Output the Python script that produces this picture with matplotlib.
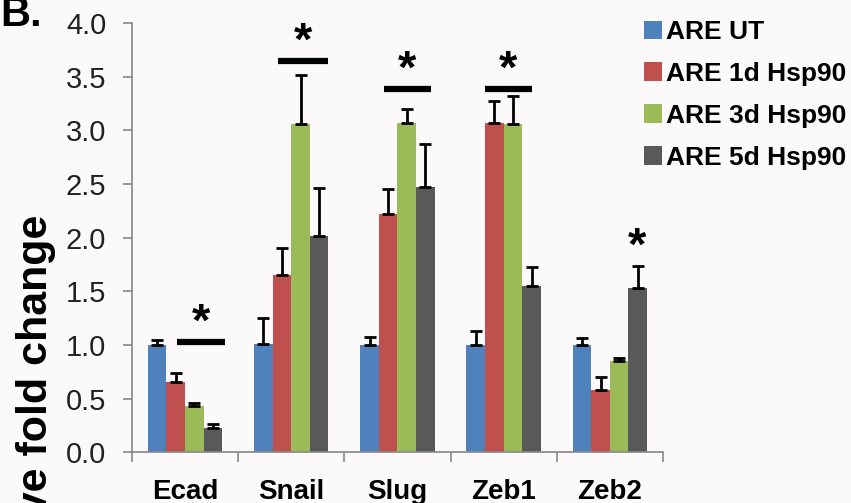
import matplotlib.pyplot as plt
import numpy as np

plt.rcParams['font.family'] = ['Liberation Sans', 'DejaVu Sans']

genes = ['Ecad', 'Snail', 'Slug', 'Zeb1', 'Zeb2']
groups = ['ARE UT', 'ARE 1d Hsp90', 'ARE 3d Hsp90', 'ARE 5d Hsp90']

ut = [1.00, 1.01, 1.00, 1.00, 1.00]
d1 = [0.65, 1.65, 2.22, 3.07, 0.58]
d3 = [0.43, 3.06, 3.07, 3.06, 0.85]
d5 = [0.23, 2.02, 2.47, 1.55, 1.53]

ut_err = [0.05, 0.24, 0.07, 0.13, 0.06]
d1_err = [0.09, 0.25, 0.23, 0.20, 0.12]
d3_err = [0.03, 0.46, 0.13, 0.26, 0.03]
d5_err = [0.03, 0.44, 0.40, 0.18, 0.21]

# significance: (gene index, line start offset, line end offset, line height)
sig_lines = [(0, -0.08, 0.38, 1.03), (1, -0.12, 0.35, 3.65),
             (2, -0.13, 0.32, 3.39), (3, -0.18, 0.27, 3.39)]
sig_star_only = [(4, 0.26, 1.70)]

colors = ['#4F81BD', '#C0504D', '#9BBB59', '#595959']
bg = '#fcf9fa'

fig = plt.figure(figsize=(8.51, 5.03), dpi=100, facecolor=bg)
ax = fig.add_axes([0.155, 0.101, 0.624, 0.853], facecolor=bg)

x = np.arange(len(genes))
w = 0.175
series = [ut, d1, d3, d5]
errs = [ut_err, d1_err, d3_err, d5_err]
for i in range(4):
    pos = x + (i - 1.5) * w
    ax.bar(pos, series[i], w, color=colors[i], label=groups[i], zorder=2)
    ax.errorbar(pos, series[i], yerr=[np.zeros(len(genes)), errs[i]], fmt='none',
                ecolor='black', elinewidth=2, capsize=4.3, capthick=2, zorder=3)

for g, a, b, h in sig_lines:
    ax.plot([x[g] + a, x[g] + b], [h, h], color='black', lw=4.5, solid_capstyle='butt', zorder=3)
    ax.text(x[g] + (a + b) / 2, h - 0.04, '*', ha='center', va='bottom',
            fontsize=34, fontweight='bold')
for g, off, h in sig_star_only:
    ax.text(x[g] + off, h, '*', ha='center', va='bottom', fontsize=34, fontweight='bold')

ax.set_xlim(-0.5, 4.5)
ax.set_ylim(0, 4.0)
ax.set_yticks(np.arange(0, 4.01, 0.5))
ax.set_yticklabels(['%.1f' % v for v in np.arange(0, 4.01, 0.5)])
ax.set_xticks(x)
ax.set_xticklabels(genes, fontsize=20, fontweight='bold')
ax.set_xticks(np.arange(-0.5, 4.6, 1), minor=True)
ax.tick_params(axis='x', which='major', length=0, pad=19)
ax.tick_params(axis='x', which='minor', length=7, width=1.2, color='#888888', direction='out')
ax.tick_params(axis='y', length=6.5, width=1.2, color='#888888', labelsize=21,
               labelcolor='#222222', pad=12)

for s in ['top', 'right']:
    ax.spines[s].set_visible(False)
for s in ['left', 'bottom']:
    ax.spines[s].set_color('#888888')
    ax.spines[s].set_linewidth(1.2)

# the reference clips the start of this label at the bottom edge
fig.text(36 / 851, 1 - 215 / 503, 'Relative fold change', rotation=90, ha='center', va='top',
         fontsize=31, fontweight='bold')
fig.text(0.0, 1.01, 'B.', ha='left', va='top', fontsize=30, fontweight='bold')

leg = fig.legend(loc='upper left', bbox_to_anchor=(644 / 851, 1 - 20 / 503), frameon=False,
                 prop={'size': 19, 'weight': 'bold'}, handlelength=0.7, handleheight=0.7,
                 handletextpad=0.15, labelspacing=0.68, borderaxespad=0, borderpad=0)

fig.savefig('out.png', dpi=100, facecolor=bg)
